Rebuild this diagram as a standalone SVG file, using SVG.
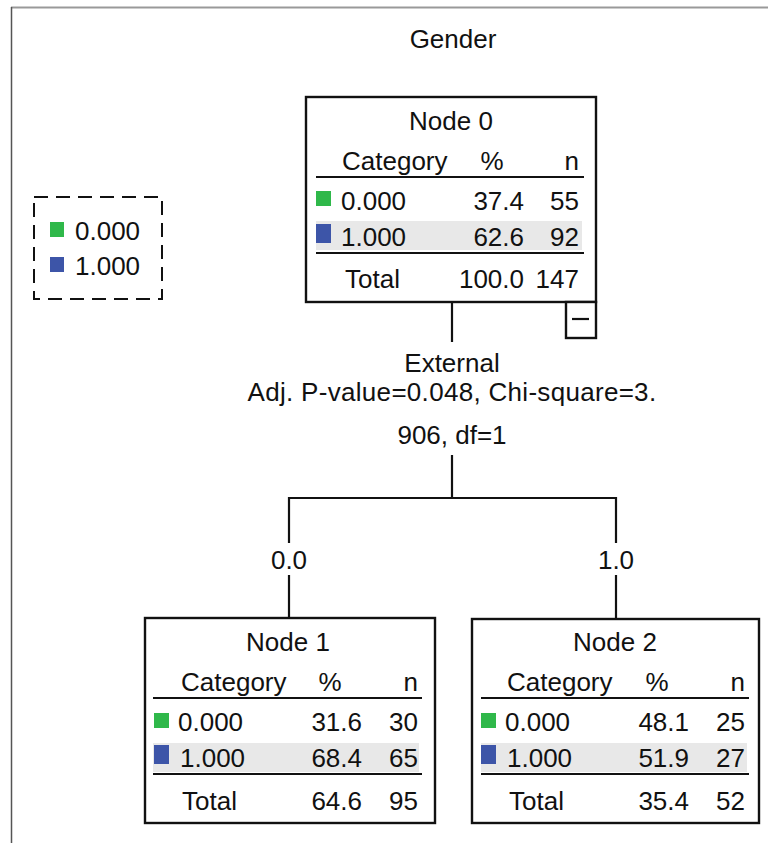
<svg xmlns="http://www.w3.org/2000/svg" width="768" height="843" viewBox="0 0 768 843">
<style>
text{font-family:"Liberation Sans",Arial,sans-serif;font-size:26px;fill:#111}
.m{text-anchor:middle}.e{text-anchor:end}
.box{fill:#fff;stroke:#111;stroke-width:2.4}
.ln{stroke:#111;stroke-width:2.2;fill:none}
.g{fill:#2fb84a}.b{fill:#3d55a8}.row{fill:#e8e8e8}
</style>
<rect width="768" height="843" fill="#fff"/>
<g id="frame"><line x1="11" y1="7.5" x2="768" y2="7.5" stroke="#999" stroke-width="2"/><line x1="11.5" y1="7" x2="11.5" y2="843" stroke="#555" stroke-width="1.5"/></g>
<text id="title" class="m" x="453" y="48">Gender</text>
<g id="legend">
<rect x="34" y="197" width="128" height="102" fill="none" stroke="#111" stroke-width="2" stroke-dasharray="14,8"/>
<rect class="g" x="50" y="222" width="14" height="15"/><text x="75" y="240">0.000</text>
<rect class="b" x="50" y="257" width="14" height="15"/><text x="75" y="275">1.000</text>
</g>
<g id="connectors">
<line class="ln" x1="452" y1="302" x2="452" y2="342"/>
<text class="m" x="452" y="372">External</text>
<text class="m" x="452" y="401" letter-spacing="0.3">Adj. P-value=0.048, Chi-square=3.</text>
<text class="m" x="452" y="444">906, df=1</text>
<polyline class="ln" points="289,543 289,498 616,498 616,543"/>
<line class="ln" x1="452" y1="455" x2="452" y2="498"/>
<text class="m" x="289" y="569">0.0</text>
<text class="m" x="616" y="569">1.0</text>
<line class="ln" x1="289" y1="575" x2="289" y2="618"/>
<line class="ln" x1="616" y1="575" x2="616" y2="619"/>
</g>
<g id="node0" transform="translate(306,97)">
<rect class="box" x="0" y="0" width="290" height="205"/>
<text class="m" x="145" y="33">Node 0</text>
<text x="36" y="73">Category</text><text class="m" x="186" y="73">%</text><text class="e" x="273" y="73">n</text>
<line class="ln" x1="10" y1="80" x2="278" y2="80"/>
<rect class="g" x="10" y="94" width="15" height="15"/>
<text x="35" y="113">0.000</text><text class="e" x="218" y="113">37.4</text><text class="e" x="273" y="113">55</text>
<rect class="row" x="10" y="124" width="266" height="29"/>
<rect class="b" x="10" y="127" width="15" height="19"/>
<text x="35" y="149">1.000</text><text class="e" x="218" y="149">62.6</text><text class="e" x="273" y="149">92</text>
<line class="ln" x1="10" y1="156" x2="278" y2="156"/>
<text x="39" y="191">Total</text><text class="e" x="218" y="191">100.0</text><text class="e" x="273" y="191">147</text>
<rect class="box" x="260" y="205" width="30" height="36"/>
<line class="ln" x1="266" y1="222" x2="283" y2="222"/>
</g>
<g id="node1" transform="translate(145,618)">
<rect class="box" x="0" y="0" width="290" height="205"/>
<text class="m" x="143" y="33">Node 1</text>
<text x="36" y="73">Category</text><text class="m" x="185" y="73">%</text><text class="e" x="273" y="73">n</text>
<line class="ln" x1="8" y1="80" x2="277" y2="80"/>
<rect class="g" x="9" y="95" width="15" height="15"/>
<text x="33" y="113">0.000</text><text class="e" x="217" y="113">31.6</text><text class="e" x="273" y="113">30</text>
<rect class="row" x="8" y="125" width="266" height="29"/>
<rect class="b" x="9" y="127" width="15" height="19"/>
<text x="35" y="149">1.000</text><text class="e" x="217" y="149">68.4</text><text class="e" x="273" y="149">65</text>
<line class="ln" x1="8" y1="156" x2="277" y2="156"/>
<text x="37" y="192">Total</text><text class="e" x="217" y="192">64.6</text><text class="e" x="273" y="192">95</text>
</g>
<g id="node2" transform="translate(472,619)">
<rect class="box" x="0" y="0" width="287" height="204"/>
<text class="m" x="143" y="32">Node 2</text>
<text x="35" y="72">Category</text><text class="m" x="185" y="72">%</text><text class="e" x="273" y="72">n</text>
<line class="ln" x1="9" y1="79" x2="277" y2="79"/>
<rect class="g" x="9" y="94" width="15" height="15"/>
<text x="33" y="112">0.000</text><text class="e" x="217" y="112">48.1</text><text class="e" x="273" y="112">25</text>
<rect class="row" x="9" y="124" width="266" height="29"/>
<rect class="b" x="9" y="126" width="15" height="19"/>
<text x="35" y="148">1.000</text><text class="e" x="217" y="148">51.9</text><text class="e" x="273" y="148">27</text>
<line class="ln" x1="9" y1="155" x2="277" y2="155"/>
<text x="37" y="191">Total</text><text class="e" x="217" y="191">35.4</text><text class="e" x="273" y="191">52</text>
</g>
</svg>
